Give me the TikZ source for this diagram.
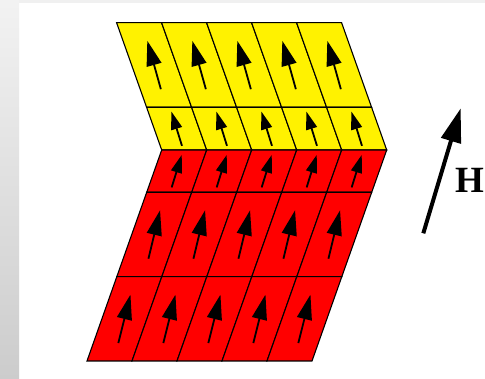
\documentclass[tikz,border=0pt]{standalone}
\usepackage{fontspec}
\setmainfont{Liberation Serif}
\usetikzlibrary{arrows.meta}

\begin{document}
\begin{tikzpicture}[x=1pt, y=-1pt,
  cellbox/.style={draw=black, line width=1.1pt},
  spin/.style 2 args={line width=1.8pt, -{Triangle[length=#1, width=#2]}},
  field/.style={line width=4pt, -{Triangle[length=34pt, width=20pt]}},
  hlabel/.style={inner sep=0pt, font=\bfseries\fontsize{37}{37}\selectfont}]
\useasboundingbox (0,0) rectangle (485,379);
\fill[white] (0,0) rectangle (485,379);
\shade[top color=gray!10, bottom color=gray!40] (0,0) rectangle (19,379);
\fill[gray!12] (19,0) rectangle (485,3);
% rows: top y / bottom y / left x at top / left x at bottom / colour / tilt / half height / head
\foreach \ya/\yb/\xa/\xb/\col/\tilt/\hy/\hl/\hw in {
    22.7/107.3/116.6/146.6/yellow/-0.28/24.2/25pt/15pt,
    107.3/150/146.6/161.7/yellow/-0.31/17.2/18pt/11pt,
    150/192.3/161.7/146.7/red/0.31/16.3/18pt/11pt,
    192.3/276.7/146.7/116.8/red/0.24/24.2/25pt/15pt,
    276.7/361/116.8/87/red/0.25/24.2/25pt/15pt} {
  \foreach \i in {0,...,4} {
    \filldraw[cellbox, fill=\col] ({\xa+45*\i},\ya) -- ({\xa+45*\i+45},\ya)
      -- ({\xb+45*\i+45},\yb) -- ({\xb+45*\i},\yb) -- cycle;
    \draw[spin={\hl}{\hw}] ({(\xa+\xb)/2+22.5+45*\i-(\tilt)*\hy},{(\ya+\yb)/2+\hy})
      -- ({(\xa+\xb)/2+22.5+45*\i+(\tilt)*\hy},{(\ya+\yb)/2-\hy});
  }
}
% applied field
\coordinate (htail) at (423.3,233.3);
\coordinate (htip) at (460.7,108.3);
\draw[field] (htail) -- (htip);
\node[hlabel, anchor=base west] (hlab) at (455.2,192.3) {H};
\end{tikzpicture}
\end{document}
